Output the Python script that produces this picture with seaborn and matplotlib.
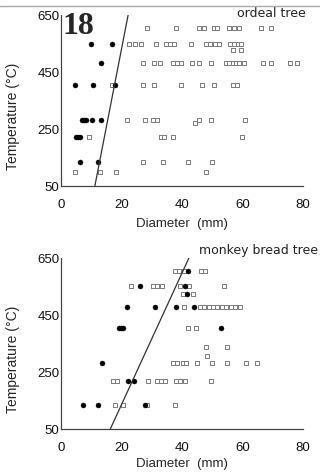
import pandas as pd
import matplotlib
matplotlib.use("Agg")
import matplotlib.pyplot as plt
import seaborn as sns
from matplotlib.lines import Line2D

# ---- ordeal tree (top panel) ----
ordeal_dot_x = [10.0, 17.0, 13.1, 4.5, 10.5, 18.0, 7.0, 7.7, 8.4, 10.2, 13.1,
                5.0, 5.7, 6.4, 6.2, 12.2]
ordeal_dot_y = [550, 550, 480, 405, 405, 405, 281, 281, 281, 281, 281,
                222, 222, 222, 135, 135]

ordeal_sq_x = [28.4, 38.0, 45.8, 47.2, 50.5, 51.7, 55.5, 57.2, 58.8, 66.3, 69.5,
               22.6, 24.4, 26.6, 31.3, 34.8, 36.2, 37.4, 42.9, 48.0, 49.4, 50.8, 52.4,
               55.8, 57.3, 58.5, 59.6,
               56.8, 59.6,
               27.1, 30.9, 32.8, 37.0, 38.4, 39.8, 43.4, 45.6, 49.5, 54.6, 55.7, 56.8,
               57.9, 59.0, 60.4, 66.7, 69.3, 75.7, 78.2,
               16.9, 27.1, 30.8, 39.8, 46.7, 50.5, 56.9, 58.3,
               21.9, 27.9, 30.3, 31.9, 45.8, 49.6, 60.7,
               44.3,
               9.1, 33.0, 34.2, 37.0, 59.8,
               27.2, 33.6, 42.0, 49.8,
               4.7, 12.8, 18.1, 47.8]
ordeal_sq_y = [605, 605, 605, 605, 605, 605, 605, 605, 605, 605, 605,
               550, 550, 550, 550, 550, 550, 550, 550, 550, 550, 550, 550,
               550, 550, 550, 550,
               527, 527,
               480, 480, 480, 480, 480, 480, 480, 480, 480, 480, 480, 480,
               480, 480, 480, 480, 480, 480, 480,
               405, 405, 405, 405, 405, 405, 405, 405,
               281, 281, 281, 281, 281, 281, 281,
               272,
               222, 222, 222, 222, 222,
               135, 135, 135, 135,
               100, 100, 100, 100]

ordeal_fit_x = [11.2, 22.2]
ordeal_fit_y = [50, 650]

# ---- monkey bread tree (bottom panel) ----
monkey_dot_x = [42.0, 26.1, 40.9, 41.8, 21.7, 31.2, 37.9, 44.0, 19.3, 19.8, 20.4,
                53.0, 13.7, 22.2, 24.1, 7.4, 12.3, 27.7]
monkey_dot_y = [605, 552, 552, 524, 477, 477, 477, 477, 403, 403, 403,
                403, 280, 220, 220, 134, 134, 134]

monkey_sq_x = [37.6, 39.0, 40.6, 46.4, 47.7,
               23.0, 30.5, 31.9, 33.5, 39.5, 42.4, 53.9,
               40.2, 43.5,
               40.6, 45.9, 47.3, 48.8, 50.3, 51.7, 53.2, 54.7, 56.1, 57.7, 59.2,
               42.0, 44.8,
               47.8, 55.0,
               48.4,
               37.1, 38.4, 40.4, 41.3, 45.1, 49.9, 55.0, 61.3, 64.8,
               17.3, 18.6, 28.8, 31.8, 33.0, 34.3, 37.9, 39.5, 40.9, 49.5,
               17.8, 20.4, 28.5, 37.6]
monkey_sq_y = [605, 605, 605, 605, 605,
               552, 552, 552, 552, 552, 552, 552,
               524, 524,
               477, 477, 477, 477, 477, 477, 477, 477, 477, 477, 477,
               403, 403,
               339, 339,
               306,
               280, 280, 280, 280, 280, 280, 280, 280, 280,
               220, 220, 220, 220, 220, 220, 220, 220, 220, 220,
               134, 134, 134, 134]

monkey_fit_x = [16.3, 42.3]
monkey_fit_y = [50, 650]

x_ticks = [0, 20, 40, 60, 80]
y_ticks = [50, 250, 450, 650]

sns.set_style("white")
plt.rcParams["font.family"] = ["Liberation Sans Narrow", "Liberation Sans", "DejaVu Sans"]

fig = plt.figure(figsize=(3.2, 4.75), dpi=100)
ax1 = fig.add_axes([0.1906, 0.6084, 0.756, 0.36])
ax2 = fig.add_axes([0.1906, 0.0968, 0.756, 0.36])

# grey page edge at the top of the scan
fig.add_artist(Line2D([0, 1], [1 - 6 / 475, 1 - 6 / 475], color="#aaaaaa", lw=1.0))


def draw_panel(ax, sq_x, sq_y, dot_x, dot_y, fit_x, fit_y, name, name_xy):
    sq = pd.DataFrame({"d": sq_x, "t": sq_y})
    dots = pd.DataFrame({"d": dot_x, "t": dot_y})
    fit = pd.DataFrame({"d": fit_x, "t": fit_y})
    sns.scatterplot(data=sq, x="d", y="t", ax=ax, marker="s", s=10,
                    facecolor="white", edgecolor="#7a7a7a", linewidth=0.7, zorder=2)
    sns.scatterplot(data=dots, x="d", y="t", ax=ax, marker="o", s=13,
                    color="black", edgecolor="black", linewidth=0.3, zorder=3)
    sns.lineplot(data=fit, x="d", y="t", ax=ax, color="#333333", lw=0.9, zorder=4)
    ax.set_xlim(0, 80)
    ax.set_ylim(50, 650)
    ax.set_xticks(x_ticks)
    ax.set_yticks(y_ticks)
    ax.tick_params(axis="x", length=0, pad=9, labelsize=9.5, labelcolor="#111111")
    ax.tick_params(axis="y", length=0, pad=1, labelsize=9.5, labelcolor="#111111")
    sns.despine(ax=ax)
    for side in ["left", "bottom"]:
        ax.spines[side].set_color("#444444")
        ax.spines[side].set_linewidth(0.9)
    ax.set_xlabel("Diameter  (mm)", fontsize=9.5)
    ax.set_ylabel("Temperature (\u00b0C)", fontsize=10)
    ax.yaxis.set_label_coords(-0.17, 0.41)
    ax.text(name_xy[0], name_xy[1], name, transform=ax.transAxes, ha="right",
            va="center", fontsize=9, family="DejaVu Sans", color="#222222")


draw_panel(ax1, ordeal_sq_x, ordeal_sq_y, ordeal_dot_x, ordeal_dot_y,
           ordeal_fit_x, ordeal_fit_y, "ordeal tree", (1.012, 1.006))
ax1.xaxis.set_label_coords(0.5, -0.185)
draw_panel(ax2, monkey_sq_x, monkey_sq_y, monkey_dot_x, monkey_dot_y,
           monkey_fit_x, monkey_fit_y, "monkey bread tree", (1.062, 1.043))
ax2.xaxis.set_label_coords(0.5, -0.17)

ax1.text(0.005, 0.89, "18", transform=ax1.transAxes, fontsize=23,
         fontweight="bold", family="Liberation Serif", ha="left", va="baseline")

fig.savefig("out.png", dpi=100)
